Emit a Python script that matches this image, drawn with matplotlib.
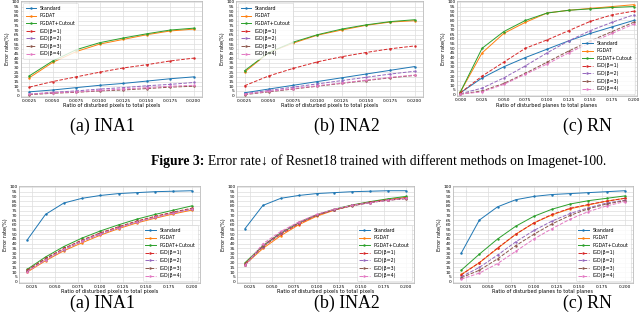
import matplotlib
matplotlib.use("Agg")
import matplotlib.pyplot as plt
import numpy as np

labels = ["Standard", "PGDAT", "PGDAT+Cutout", "IGD(β=1)", "IGD(β=2)", "IGD(β=3)", "IGD(β=4)"]
colors = ["#1f77b4", "#ff7f0e", "#2ca02c", "#d62728", "#9467bd", "#8c564b", "#e377c2"]
styles = ["-", "-", "-", "--", "--", "--", "--"]

# ---- top row ----
x_ina = [0.0025, 0.0050, 0.0075, 0.0100, 0.0125, 0.0150, 0.0175, 0.0200]
top_ina1 = [
    [4, 6, 8.5, 11, 13, 15.5, 18, 20],
    [19, 35.5, 47, 55, 60, 65, 69, 71],
    [21, 37, 49, 56.5, 61.5, 66, 70, 72],
    [9, 15, 20, 25, 29.5, 33, 37, 40],
    [1.5, 3.5, 5, 7, 8.5, 10.5, 12, 14],
    [1, 2.5, 3.5, 5, 6, 7.5, 9, 10],
    [1.5, 3, 4, 5.5, 7, 8.5, 10, 11],
]
top_ina2 = [
    [3, 7, 11, 15, 19, 23, 27, 31],
    [25, 46, 56, 64.5, 70, 75, 78.5, 80],
    [26.5, 46, 57, 65, 71, 75.5, 79, 81],
    [10.5, 21, 29, 36, 41.5, 46, 50, 53],
    [2, 5.5, 9, 12.5, 16, 19.5, 23, 26],
    [1, 4, 7, 10, 13, 16, 19, 21.5],
    [1.5, 4.5, 7.5, 10.5, 13.5, 16.5, 19.5, 22],
]
x_rn_top = [0.0, 0.025, 0.05, 0.075, 0.1, 0.125, 0.15, 0.175, 0.2]
top_rn = [
    [2, 18, 30, 40, 49, 58, 66, 73, 80],
    [3, 45, 66, 78, 88, 91, 93, 95, 97],
    [3, 50, 68, 80, 88, 91, 92.5, 94, 95],
    [2, 20, 35, 50, 59, 69, 79, 86, 90],
    [1, 7, 18, 31, 45, 58, 69, 78, 86],
    [0.5, 4, 12, 23, 35, 47, 58, 68, 78],
    [0.5, 3, 11, 22, 33, 45, 56, 66, 76],
]

# ---- bottom row ----
x_bot = [0.02, 0.04, 0.06, 0.08, 0.10, 0.12, 0.14, 0.16, 0.18, 0.20]
bot_ina1 = [
    [44, 71, 83, 88, 91, 93, 94, 95, 95.5, 96],
    [10, 22, 32.5, 41, 49, 56, 62, 67, 71.5, 75.5],
    [13, 26, 37, 46, 53.5, 60, 66, 71, 75.5, 80],
    [12, 24.5, 35, 44, 51.5, 58, 64, 69, 73.5, 77.5],
    [11, 23, 33.5, 42.5, 50, 57, 63, 68, 72.5, 76.5],
    [11.5, 24, 34.5, 43.5, 51, 57.5, 63.5, 68.5, 73, 77],
    [10.5, 23, 34, 43, 50.5, 57, 63, 68, 72.5, 76.5],
]
bot_ina2 = [
    [56, 80.5, 88, 91, 93, 94, 95, 95.5, 96, 96],
    [18, 35, 48.5, 60, 69, 75.5, 80.5, 84, 86.5, 89],
    [20, 38, 51, 62, 70.5, 76.5, 81, 84.5, 87.5, 90],
    [19, 37, 50, 61, 70, 76, 80.5, 84, 86.5, 88.5],
    [17.5, 37, 51, 62, 70.5, 76, 80.5, 83.5, 86, 88],
    [18, 38, 52, 62.5, 70.5, 76, 80, 83.5, 86, 87.5],
    [17, 40, 53, 63, 71, 76.5, 80.5, 83.5, 86, 88],
]
bot_rn = [
    [30, 65, 79, 86.5, 90, 92, 93, 94, 95, 96],
    [7.5, 20, 35, 50, 62, 70.5, 77, 81, 85, 88],
    [12, 29, 45, 58.5, 69, 76.5, 82, 85.5, 88, 90.5],
    [7, 20, 35.5, 50, 62, 71, 77.5, 81.5, 85, 88],
    [5, 15, 28, 42, 54, 64, 72, 78, 83, 86],
    [4, 12, 24, 38, 50, 61, 70, 77, 82, 85.5],
    [2.5, 9, 19, 32, 45, 56, 66, 74, 80, 84.5],
]

xt_ina = x_ina
xt_rn_top = x_rn_top
xt_bot = [0.025, 0.05, 0.075, 0.1, 0.125, 0.15, 0.175, 0.2]
yticks = list(range(0, 101, 5))

xlab_pix = "Ratio of disturbed pixels to total pixels"
xlab_rn = "Ratio of disturbed planes to total planes"
ylab = "Error rate(%)"
subcaps = ["(a) INA1", "(b) INA2", "(c) RN"]
fig_label = "Figure 3:"
fig_caption = "Error rate↓ of Resnet18 trained with different methods on Imagenet-100."

W, H = 640, 319
fig = plt.figure(figsize=(6.4, 3.19), dpi=100)

def px(l, r, t, b):
    return [l / W, 1 - b / H, (r - l) / W, (b - t) / H]

def draw(rect, xs, series, xt, fmt, xlabel, legloc, xmargin=0.05):
    ax = fig.add_axes(px(*rect))
    for ys, lab, c, ls in zip(series, labels, colors, styles):
        ax.plot(xs, ys, ls, color=c, label=lab, lw=0.7, marker='.', ms=1.5)
    ax.set_xticks(xt)
    ax.set_xticklabels([fmt % v for v in xt])
    ax.set_yticks(yticks)
    ax.set_ylim(-1.5, 101)
    ax.margins(x=xmargin)
    ax.tick_params(labelsize=3.2, length=0, pad=1.2)
    ax.set_xlabel(xlabel, fontsize=3.6, labelpad=0.6)
    ax.set_ylabel(ylab, fontsize=3.6, labelpad=1)
    ax.grid(True, color="#dddddd", lw=0.5)
    ax.set_axisbelow(True)
    for s in ax.spines.values():
        s.set_color("#bbbbbb")
        s.set_linewidth(0.6)
    leg = ax.legend(loc=legloc, fontsize=3.4, frameon=True, handlelength=2.2,
                    labelspacing=0.55, borderpad=0.5, handletextpad=0.8)
    leg.get_frame().set_linewidth(0.4)
    leg.get_frame().set_edgecolor("#cccccc")
    return ax

draw((21, 202, 1, 97), x_ina, top_ina1, xt_ina, "%.4f", xlab_pix, "upper left")
draw((236, 423, 1, 97), x_ina, top_ina2, xt_ina, "%.4f", xlab_pix, "upper left")
draw((457, 637, 1, 96), x_rn_top, top_rn, xt_rn_top, "%.3f", xlab_rn, "lower right", xmargin=0.02)
draw((19, 200, 186, 283), x_bot, bot_ina1, xt_bot, "%.3f", xlab_pix, "lower right")
draw((237, 414, 186, 283), x_bot, bot_ina2, xt_bot, "%.3f", xlab_pix, "lower right")
draw((453, 633, 186, 283), x_bot, bot_rn, xt_bot, "%.3f", xlab_rn, "lower right")

serif = ["Liberation Serif", "DejaVu Serif"]
fig.canvas.draw()
rend = fig.canvas.get_renderer()

# sub-captions: size fitted on "(a) INA1"
probe = fig.text(0, 0, subcaps[0], fontsize=10, family=serif)
cap_fs = 10 * 65 / probe.get_window_extent(rend).width
probe.remove()
cx = [102, 347, 587]
for c, x in zip(subcaps, cx):
    fig.text(x / W, 1 - 126 / H, c, ha="center", va="center", fontsize=cap_fs, family=serif)
    fig.text(x / W, 1 - 303 / H, c, ha="center", va="center", fontsize=cap_fs, family=serif)

# main caption: one size, fitted to span 151..604
t1 = fig.text(151 / W, 1 - 161 / H, fig_label, ha="left", va="center",
              fontsize=10, family=serif, weight="bold")
t2 = fig.text(0, 1 - 161 / H, fig_caption, ha="left", va="center",
              fontsize=10, family=serif)
gap = 3.5
total = t1.get_window_extent(rend).width + gap + t2.get_window_extent(rend).width
fs = 10 * (604 - 151) / total
t1.set_fontsize(fs)
t2.set_fontsize(fs)
x2 = 151 + t1.get_window_extent(rend).width + gap * fs / 10
t2.set_x(x2 / W)

fig.savefig("out.png", dpi=100)
